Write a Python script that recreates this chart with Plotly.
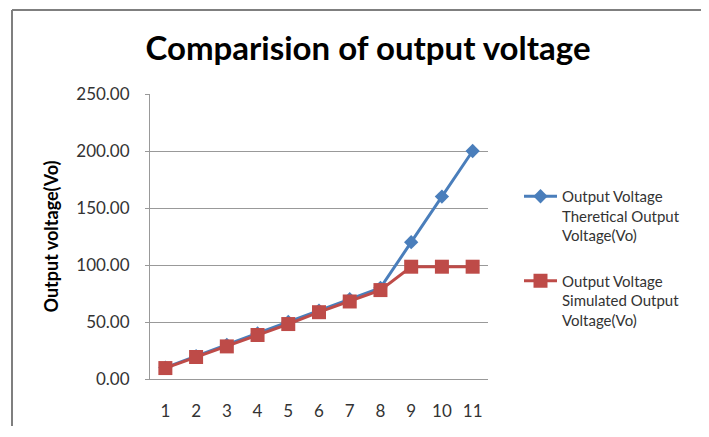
import plotly.graph_objects as go

categories = ["1", "2", "3", "4", "5", "6", "7", "8", "9", "10", "11"]
theoretical = [10, 20, 30, 40, 50, 60, 70, 80, 120, 160, 200]
simulated = [9.6, 19.3, 28.6, 38.6, 48.2, 58.6, 68.0, 78.0, 98.5, 98.5, 98.5]
y_ticks = [0, 50, 100, 150, 200, 250]
y_tick_labels = ["0.00", "50.00", "100.00", "150.00", "200.00", "250.00"]

name_theo = "Output Voltage<br>Theretical Output<br>Voltage(Vo)"
name_sim = "Output Voltage<br>Simulated Output<br>Voltage(Vo)"

FONT = "Lato, 'Open Sans', sans-serif"

# page body has an 8px margin; keep the figure small enough to avoid scrollbars
W, H = 693, 418
L, T, PW, PH = 142, 86, 338, 285

fig = go.Figure()
fig.add_trace(go.Scatter(
    x=categories, y=theoretical, name=name_theo, mode="lines+markers",
    legendgroup="theo",
    line=dict(color="#4A7EBB", width=3),
    marker=dict(symbol="diamond", size=11, color="#4A7EBB"),
))
fig.add_trace(go.Scatter(
    x=categories, y=simulated, name=name_sim, mode="lines+markers",
    legendgroup="sim",
    line=dict(color="#BE4B48", width=3),
    marker=dict(symbol="square", size=14, color="#BE4B48"),
))

fig.update_layout(
    width=W, height=H,
    margin=dict(l=L, r=W - L - PW, t=T, b=H - T - PH, autoexpand=False),
    paper_bgcolor="white", plot_bgcolor="white",
    font=dict(family=FONT, size=17, color="#333333"),
    title=dict(text="<b>Comparision of output voltage</b>", x=360 / W, xanchor="center",
               y=1 - 40 / H, yanchor="middle", font=dict(size=33, color="#000000", family=FONT)),
    showlegend=True,
    legend=dict(x=(511 - L) / PW, y=1 - (172 - T) / PH, xanchor="left", yanchor="top",
                font=dict(size=15, color="#333333", family=FONT),
                tracegroupgap=23, valign="top", bgcolor="rgba(0,0,0,0)",
                itemwidth=33),
    xaxis=dict(type="category", showgrid=False, showline=True, linecolor="#999999",
               linewidth=1, ticks="", tickfont=dict(size=17), range=[-0.5, 10.5],
               ticklabelstandoff=17),
    yaxis=dict(range=[0, 250], tickvals=y_ticks, ticktext=y_tick_labels,
               showgrid=True, gridcolor="#999999", gridwidth=1,
               showline=True, linecolor="#999999", linewidth=1,
               ticks="outside", ticklen=4, tickcolor="#999999",
               tickfont=dict(size=17), zeroline=False, ticklabelstandoff=12,
               title=dict(text="<b>Output voltage(Vo)</b>", font=dict(size=18, color="#000000"),
                          standoff=12)),
)

# outer chart border (top and left edges)
ytop = 1 + (T - 2) / PH
xleft = (4 - L) / PW
fig.add_shape(type="line", xref="paper", yref="paper",
              x0=xleft, x1=(W - L) / PW, y0=ytop, y1=ytop,
              line=dict(color="#7f7f7f", width=2))
fig.add_shape(type="line", xref="paper", yref="paper",
              x0=xleft, x1=xleft, y0=-(H - T - PH) / PH, y1=ytop,
              line=dict(color="#7f7f7f", width=2))

fig.write_html("out.html")
